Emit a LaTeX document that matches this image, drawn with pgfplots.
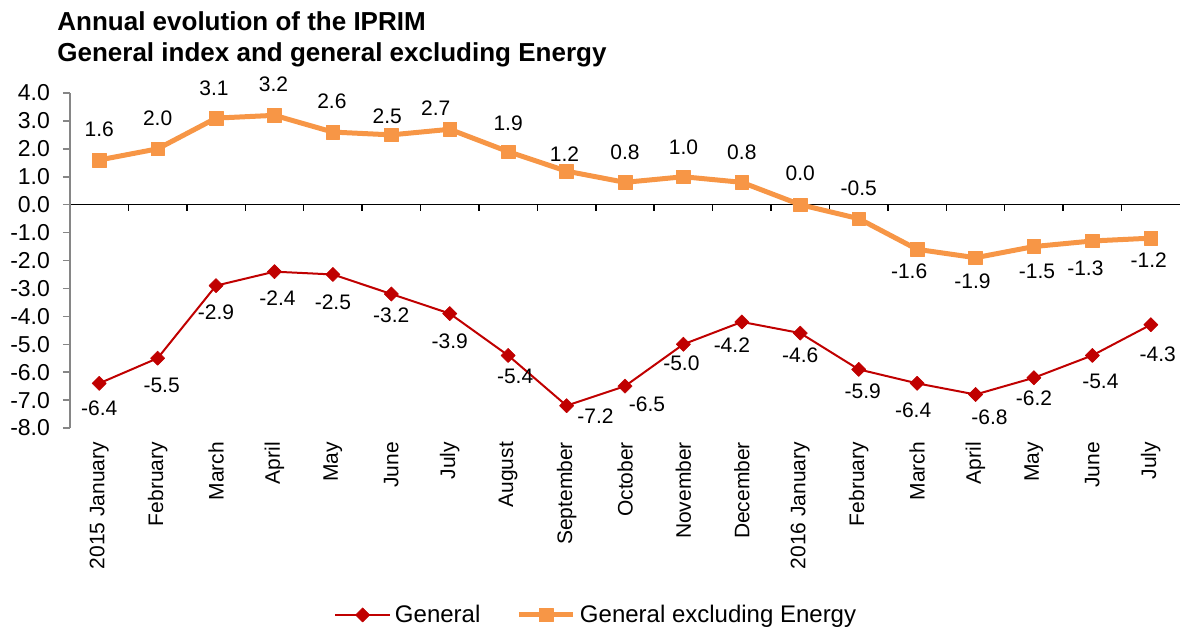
\documentclass[border=0pt]{standalone}
\usepackage{pgfplots}
\usepackage{pgfplotstable}
\pgfplotsset{compat=1.18}
\usepackage{fontspec}
\setmainfont{Liberation Sans}
\definecolor{orangeS}{HTML}{F79646}
\definecolor{redS}{HTML}{C00000}
\definecolor{axisgrey}{HTML}{868686}

% dx, dy: label offsets in px (0.5pt per px)
\pgfplotstableread{
x y dx dy
0 -6.4 0 -25
1 -5.5 4 -27
2 -2.9 0 -27
3 -2.4 3 -26
4 -2.5 0 -28
5 -3.2 0 -21
6 -3.9 0 -28
7 -5.4 7 -21
8 -7.2 29 -10
9 -6.5 22 -18
10 -5.0 -2 -19
11 -4.2 -10 -23
12 -4.6 0 -22
13 -5.9 4 -22
14 -6.4 -4 -27
15 -6.8 14 -23
16 -6.2 0 -21
17 -5.4 8 -26
18 -4.3 7 -30
}\tblgen

\pgfplotstableread{
x y dx dy
0 1.6 0 31
1 2.0 0 31
2 3.1 -2 30
3 3.2 -1 31
4 2.6 -1 31
5 2.5 -4 19
6 2.7 -14 21
7 1.9 0 28
8 1.2 -2 17
9 0.8 0 30
10 1.0 0 29
11 0.8 0 30
12 0.0 0 31
13 -0.5 0 30
14 -1.6 -8 -22
15 -1.9 -3 -24
16 -1.5 3 -25
17 -1.3 -7 -27
18 -1.2 -2 -22
}\tblexe

\pgfplotsset{
  labelled/.style={
    nodes near coords={\pgfmathprintnumber[fixed,fixed zerofill,precision=1]{\pgfplotspointmeta}},
    visualization depends on={\thisrow{dx} \as \dx},
    visualization depends on={\thisrow{dy} \as \dy},
    every node near coord/.append style={anchor=center, xshift={\dx*0.5pt}, yshift={\dy*0.5pt}, font=\fontsize{10.5}{12}\selectfont, text=black, inner sep=0pt},
  },
  genstyle/.style={redS, line width=1pt, line join=round, mark=square*, mark size=2.5pt, mark options={rotate=45, fill=redS, draw=redS, line width=0.3pt}},
  exestyle/.style={orangeS, line width=2.5pt, line join=round, mark=square*, mark size=3.4pt, mark options={fill=orangeS, draw=orangeS, line width=0.3pt}},
}

\begin{document}
\begin{tikzpicture}
\useasboundingbox (-35pt,-100.5pt) rectangle (557.5pt,214pt);
% zero line with ticks
\begin{axis}[
  scale only axis, width=555pt, height=167.5pt,
  xmin=-0.5, xmax=18.5, ymin=-8, ymax=4,
  hide y axis,
  axis x line=middle,
  x axis line style={-, black, line width=0.75pt},
  xtick={-0.5,0.5,...,18.5},
  xticklabels={},
  tick align=outside,
  major tick length=3pt,
  x tick style={black, line width=0.75pt},
]
\end{axis}
\begin{axis}[
  scale only axis, width=555pt, height=167.5pt,
  xmin=-0.5, xmax=18.5, ymin=-8, ymax=4,
  axis x line*=bottom, axis y line*=left,
  x axis line style={draw=none},
  y axis line style={-, axisgrey, line width=0.75pt},
  ytick={-8,-7,...,4},
  y tick style={axisgrey, line width=0.75pt},
  tick align=outside, major tick length=3.5pt,
  xtick={0,...,18},
  xticklabels={2015 January,February,March,April,May,June,July,August,September,October,November,December,2016 January,February,March,April,May,June,July},
  x tick style={draw=none},
  xticklabel style={rotate=90, anchor=east, font=\fontsize{10.5}{12}\selectfont},
  yticklabel style={xshift=-3pt, font=\fontsize{11.5}{13}\selectfont, /pgf/number format/.cd, fixed, fixed zerofill, precision=1},
  /pgf/number format/assume math mode=true,
  clip=false,
  legend style={at={(0.475,-0.558)}, anchor=center, draw=none, legend columns=2, font=\fontsize{12}{14}\selectfont, /tikz/every even column/.append style={column sep=16pt}},
  legend cell align=left,
  legend image code/.code={\draw[mark repeat=2,mark phase=2] plot coordinates {(0cm,0cm) (0.48cm,0cm) (0.96cm,0cm)};},
]
\addplot[labelled, genstyle, forget plot] table[x=x, y=y] {\tblgen};
\addplot[labelled, exestyle, forget plot] table[x=x, y=y] {\tblexe};
\addlegendimage{genstyle}
\addlegendentry{General}
\addlegendimage{exestyle}
\addlegendentry{General excluding Energy}
\end{axis}
\node[anchor=base west, inner sep=0pt, font=\bfseries\fontsize{13}{15}\selectfont] at (-6.5pt,198.75pt) {Annual evolution of the IPRIM};
\node[anchor=base west, inner sep=0pt, font=\bfseries\fontsize{13}{15}\selectfont] at (-6.5pt,183.5pt) {General index and general excluding Energy};
\end{tikzpicture}
\end{document}
